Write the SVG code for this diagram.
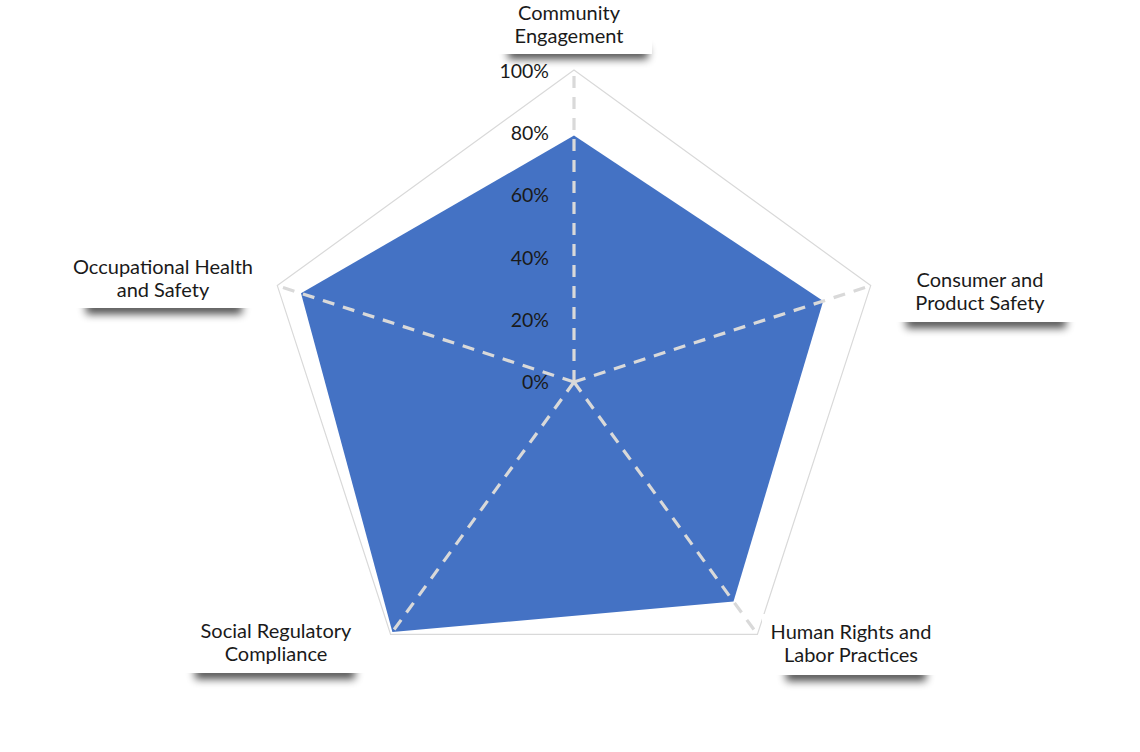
<svg xmlns="http://www.w3.org/2000/svg" width="1140" height="752" viewBox="0 0 1140 752">
<defs>
<filter id="sh" x="-20%" y="-100%" width="140%" height="300%"><feGaussianBlur stdDeviation="4"/></filter>
<style>
text{font-family:Lato,"Open Sans","Liberation Sans",sans-serif;fill:#1a1a1a}
.cat{font-size:20px;text-anchor:middle}
.tick{font-size:19.5px;text-anchor:end}
.grid{fill:none;stroke:#d9d9d9;stroke-width:1.2}
.axis{stroke:#d9d9d9;stroke-width:3.2;stroke-dasharray:12 9;fill:none}
.box{fill:#fff}
.shadow{fill:#000;opacity:.7;filter:url(#sh)}
</style>
</defs>
<rect width="1140" height="752" fill="#fff"/>
<g id="grid">
<polygon class="grid" points="574,70 870.7,285.6 757.4,634.4 390.6,634.4 277.3,285.6"/>
</g>
<g id="series">
<polygon points="574,135.5 823.2,301 733.5,601.6 392.4,631.9 301,293.3" fill="#4472c4"/>
</g>
<g id="connectors">
<line class="axis" x1="574" y1="382" x2="574" y2="70"/>
<line class="axis" x1="574" y1="382" x2="870.7" y2="285.6"/>
<line class="axis" x1="574" y1="382" x2="757.4" y2="634.4"/>
<line class="axis" x1="574" y1="382" x2="390.6" y2="634.4"/>
<line class="axis" x1="574" y1="382" x2="277.3" y2="285.6"/>
</g>
<g id="ticks">
<text class="tick" x="549" y="78">100%</text>
<text class="tick" x="549" y="140">80%</text>
<text class="tick" x="549" y="202">60%</text>
<text class="tick" x="549" y="265">40%</text>
<text class="tick" x="549" y="327">20%</text>
<text class="tick" x="549" y="389">0%</text>
</g>
<g id="community">
<rect class="shadow" x="508" y="47" width="140" height="12"/>
<rect class="box" x="492" y="0" width="160" height="54"/>
<text class="cat" x="569" y="20">Community</text>
<text class="cat" x="569" y="43">Engagement</text>
</g>
<g id="consumer">
<rect class="shadow" x="906" y="316" width="160" height="12"/>
<rect class="box" x="888" y="262" width="190" height="60"/>
<text class="cat" x="980" y="287">Consumer and</text>
<text class="cat" x="980" y="310">Product Safety</text>
</g>
<g id="humanrights">
<rect class="shadow" x="786" y="669" width="140" height="12"/>
<rect class="box" x="762" y="614" width="178" height="61"/>
<text class="cat" x="851" y="639">Human Rights and</text>
<text class="cat" x="851" y="662">Labor Practices</text>
</g>
<g id="social">
<rect class="shadow" x="195" y="667" width="160" height="12"/>
<rect class="box" x="182" y="612" width="188" height="61"/>
<text class="cat" x="276" y="638">Social Regulatory</text>
<text class="cat" x="276" y="661">Compliance</text>
</g>
<g id="occupational">
<rect class="shadow" x="86" y="302" width="156" height="12"/>
<rect class="box" x="64" y="248" width="198" height="60"/>
<text class="cat" x="163" y="274">Occupational Health</text>
<text class="cat" x="163" y="297">and Safety</text>
</g>
</svg>
